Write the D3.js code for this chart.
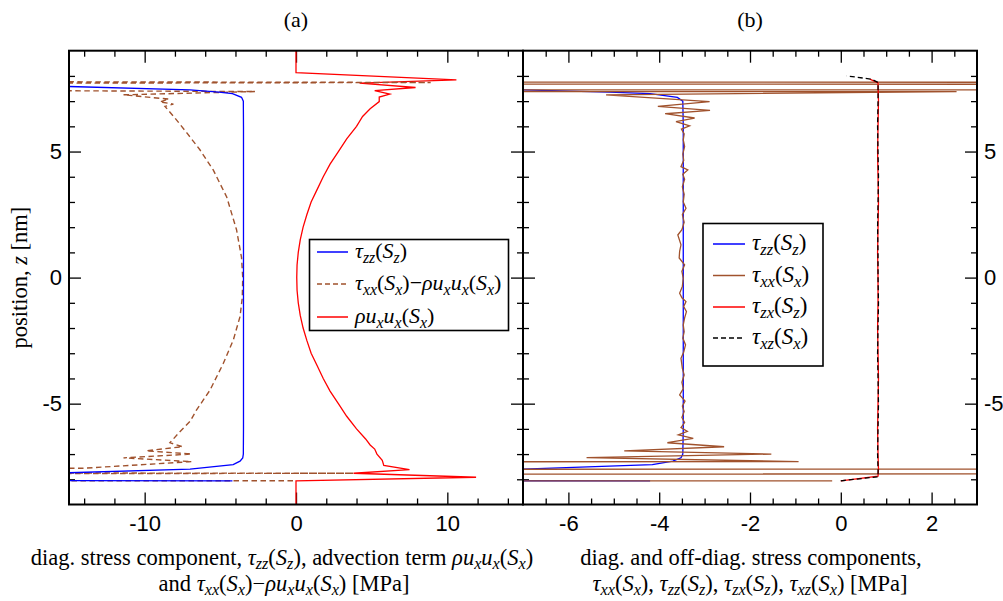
<!DOCTYPE html>
<html>
<head>
<meta charset="utf-8">
<script src="https://cdn.jsdelivr.net/npm/d3@7"></script>
<style>
body { margin: 0; background: #fff; }
svg { display: block; }
.tick text { font-family: "Liberation Sans", Arial, sans-serif; font-size: 22px; fill: #000; }
.serif { font-family: "Liberation Serif", "Times New Roman", serif; fill: #000; }
</style>
</head>
<body>
<div id="chart"></div>
<script>
// profiles as [value, z] pairs, z in nm, value in MPa
const tauZZ = [[-4.2,-8.06],[-60,-8.03],[-60,-7.80],[-15,-7.74],[-7.0,-7.60],[-4.15,-7.42],[-3.7,-7.28],[-3.52,-7.15],
  [-3.48,-7.0],[-3.47,-6],[-3.47,-5],[-3.47,-4],[-3.47,-3],[-3.47,-2],[-3.47,-1],[-3.47,0],[-3.47,1],[-3.47,2],
  [-3.47,3],[-3.47,4],[-3.47,5],[-3.47,6],[-3.48,7.0],[-3.6,7.15],[-4.2,7.30],[-5.1,7.36],[-7.0,7.45],[-15,7.58],[-60,7.70]];

const advection = [[0,-9.0],[0,-8.06],[11.9,-7.92],[3.8,-7.76],[7.5,-7.62],[5.8,-7.45],[5.7,-7.25],[5.35,-7.0],[5.2,-6.8],
  [4.9,-6.64],[4.6,-6.4],[4.0,-6.0],[3.35,-5.5],[2.8,-5.0],[2.25,-4.5],[1.8,-4.0],[1.4,-3.5],[1.0,-3.0],[0.72,-2.5],
  [0.47,-2.0],[0.28,-1.5],[0.15,-1.0],[0.07,-0.5],[0.05,0],[0.07,0.5],[0.15,1.0],[0.28,1.5],[0.47,2.0],[0.72,2.5],
  [1.0,3.0],[1.4,3.5],[1.8,4.0],[2.25,4.5],[2.8,5.0],[3.35,5.5],[4.0,6.0],[4.4,6.39],[4.9,6.7],[5.5,6.98],[5.5,7.16],
  [6.2,7.28],[5.2,7.42],[7.9,7.54],[4.2,7.71],[10.6,7.84],[0,8.13],[0,9.0]];

const tauXXminusAdv = [[-0.2,-8.06],[-300,-8.02],[3.8,-7.76],[-300,-7.62],[-14,-7.56],[-6.9,-7.30],[-11.4,-7.15],
  [-6.9,-7.00],[-9.9,-6.87],[-7.5,-6.71],[-8.33,-6.55],[-7.67,-6.11],[-7.0,-5.7],[-6.57,-5.25],[-5.68,-4.46],[-4.8,-3.4],
  [-4.14,-2.47],[-3.7,-1.55],[-3.55,-0.8],[-3.52,0],[-3.6,0.8],[-3.93,1.9],[-4.58,3.2],[-5.47,4.27],[-6.35,5.07],
  [-7.2,5.73],[-8.0,6.33],[-8.66,6.79],[-8.1,6.88],[-9.0,6.97],[-8.4,7.08],[-11.4,7.25],[-2.7,7.38],[-100,7.62],
  [8.9,7.74],[-100,7.86]];

const tauXX = [[-0.19,-8.06],[-500,-8.04],[500,-7.54],[-500,-7.66],[-0.93,-7.30],[-5.6,-7.14],[-1.53,-7.0],[-4.77,-6.87],
  [-2.57,-6.71],[-3.82,-6.55],[-3.25,-6.38],[-3.58,-6.24],[-3.38,-6.1],[-3.52,-5.95],[-3.44,-5.75],[-3.5,-5.55],
  [-3.45,-5.31],[-3.49,-5.1],[-3.43,-4.9],[-3.55,-4.65],[-3.47,-4.4],[-3.5,-4.15],[-3.45,-3.86],[-3.49,-3.6],
  [-3.52,-3.2],[-3.46,-2.95],[-3.42,-2.67],[-3.48,-2.4],[-3.45,-2.15],[-3.47,-1.88],[-3.44,-1.6],[-3.40,-1.35],
  [-3.46,-1.15],[-3.41,-0.95],[-3.5,-0.8],[-3.55,-0.62],[-3.49,-0.35],[-3.47,-0.03],[-3.5,0.25],[-3.44,0.51],
  [-3.56,0.78],[-3.55,1.04],[-3.52,1.3],[-3.59,1.69],[-3.5,1.9],[-3.45,2.2],[-3.49,2.5],[-3.41,2.75],[-3.47,3.0],
  [-3.45,3.3],[-3.49,3.6],[-3.44,3.9],[-3.48,4.1],[-3.37,4.27],[-3.52,4.40],[-3.46,4.65],[-3.48,4.9],[-3.44,5.2],
  [-3.47,5.46],[-3.45,5.7],[-3.51,5.89],[-3.33,6.02],[-3.63,6.19],[-3.22,6.33],[-3.87,6.5],[-2.88,6.63],[-4.03,6.79],
  [-2.89,6.98],[-5.17,7.25],[2.55,7.38],[-500,7.40],[500,7.50],[-500,7.84],[500,7.66]];

const tauZX = [[0,-8.06],[0.82,-7.88],[0.83,-7.6],[0.82,-7],[0.81,-6],[0.82,-5],[0.83,-4],[0.82,-3],[0.81,-2],
  [0.82,-1],[0.82,0],[0.81,1],[0.82,2],[0.83,3],[0.82,4],[0.81,5],[0.82,6],[0.83,7],[0.82,7.72],[0.64,7.87]];

const tauXZ = [[0,-8.06],[0.82,-7.9],[0.82,-7.6],[0.81,-7],[0.82,-6],[0.83,-5],[0.82,-4],[0.81,-3],[0.82,-2],
  [0.83,-1],[0.82,0],[0.82,1],[0.81,2],[0.82,3],[0.83,4],[0.82,5],[0.81,6],[0.82,7],[0.82,7.74],[0.68,7.87],[0.13,8.0]];

const zMajor = [-5, 0, 5];
const zMinor = [-8,-7,-6,-4,-3,-2,-1,1,2,3,4,6,7,8];
const xMajorA = [-10, 0, 10];
const xMinorA = [-14,-12,-8,-6,-4,-2,2,4,6,8,12,14];
const xMajorB = [-6, -4, -2, 0, 2];
const xMinorB = [-6.5,-5.5,-5,-4.5,-3.5,-3,-2.5,-1.5,-1,-0.5,0.5,1,1.5,2.5];

// rich text pieces: "i" italic, "s" italic subscript
const labTauZZ = [["τ","i"],["zz","s"],["(",""],["S","i"],["z","s"],[")",""]];
const labTauXX = [["τ","i"],["xx","s"],["(",""],["S","i"],["x","s"],[")",""]];
const labTauZX = [["τ","i"],["zx","s"],["(",""],["S","i"],["z","s"],[")",""]];
const labTauXZ = [["τ","i"],["xz","s"],["(",""],["S","i"],["x","s"],[")",""]];
const labAdv = [["ρu","i"],["x","s"],["u","i"],["x","s"],["(",""],["S","i"],["x","s"],[")",""]];
const labDiff = labTauXX.concat([["−",""]], labAdv);

const W = 1003, H = 601;
const yTop = 50.7, yBot = 504.5;
const svg = d3.select("#chart").append("svg").attr("width", W).attr("height", H);

const y = d3.scaleLinear().domain([-9, 9]).range([yBot, yTop]);
const xA = d3.scaleLinear().domain([-15, 15]).range([69, 523]);
const xB = d3.scaleLinear().domain([-7, 3]).range([523, 977]);

const fmt = d => String(d);

function rich(sel, parts, size, shift = 0.22) {
  let sub = false;
  parts.forEach(([t, s]) => {
    const ts = sel.append("tspan").text(t);
    if (s === "i" || s === "s") ts.attr("font-style", "italic");
    if (s === "s") {
      ts.attr("font-size", size * 0.72);
      if (!sub) { ts.attr("dy", size * shift); sub = true; }
    } else if (sub) {
      ts.attr("dy", -size * shift); sub = false;
    }
  });
}

function panel(id, x, majX, minX, leftLabels, rightLabels) {
  const g = svg.append("g");
  const [x0, x1] = x.range();
  g.append("clipPath").attr("id", id).append("rect")
    .attr("x", x0).attr("y", yTop).attr("width", x1 - x0).attr("height", yBot - yTop);

  const axes = [
    [d3.axisBottom(x).tickValues(majX).tickFormat(fmt), `translate(0,${yBot})`, 12, true, 11],
    [d3.axisBottom(x).tickValues(minX), `translate(0,${yBot})`, 6, false, 0],
    [d3.axisTop(x).tickValues(majX), `translate(0,${yTop})`, 12, false, 0],
    [d3.axisTop(x).tickValues(minX), `translate(0,${yTop})`, 6, false, 0],
    [d3.axisLeft(y).tickValues(zMajor).tickFormat(fmt), `translate(${x0},0)`, 12, leftLabels, 7],
    [d3.axisLeft(y).tickValues(zMinor), `translate(${x0},0)`, 6, false, 0],
    [d3.axisRight(y).tickValues(zMajor).tickFormat(fmt), `translate(${x1},0)`, 12, rightLabels, 7],
    [d3.axisRight(y).tickValues(zMinor), `translate(${x1},0)`, 6, false, 0]
  ];
  axes.forEach(([ax, tr, len, labels, pad]) => {
    const a = g.append("g").attr("transform", tr)
      .call(ax.tickSizeInner(-len).tickSizeOuter(0).tickPadding(pad));
    a.select(".domain").remove();
    a.selectAll(".tick line").attr("stroke", "#000").attr("stroke-width", 1.3);
    if (!labels) a.selectAll(".tick text").remove();
  });

  const plot = g.append("g").attr("clip-path", `url(#${id})`);
  const line = d3.line().x(d => x(d[0])).y(d => y(d[1]));
  return { g, plot, line };
}

const a = panel("clipA", xA, xMajorA, xMinorA, true, false);
const b = panel("clipB", xB, xMajorB, xMinorB, false, true);

const brown = "#a0522d";

a.plot.append("path").datum(advection).attr("d", a.line)
  .attr("fill", "none").attr("stroke", "#ff0000").attr("stroke-width", 1.3);
a.plot.append("path").datum(tauXXminusAdv).attr("d", a.line)
  .attr("fill", "none").attr("stroke", brown).attr("stroke-width", 1.4).attr("stroke-dasharray", "5.5,3.5");
a.plot.append("path").datum(tauZZ).attr("d", a.line)
  .attr("fill", "none").attr("stroke", "#0000ff").attr("stroke-width", 1.3);

b.plot.append("path").datum(tauZZ).attr("d", b.line)
  .attr("fill", "none").attr("stroke", "#0000ff").attr("stroke-width", 1.3);
b.plot.append("path").datum(tauXX).attr("d", b.line)
  .attr("fill", "none").attr("stroke", brown).attr("stroke-width", 1.3);
b.plot.append("path").datum(tauZX).attr("d", b.line)
  .attr("fill", "none").attr("stroke", "#ff0000").attr("stroke-width", 1.3);
b.plot.append("path").datum(tauXZ).attr("d", b.line)
  .attr("fill", "none").attr("stroke", "#000").attr("stroke-width", 1.3).attr("stroke-dasharray", "5,3");

// frames
[xA, xB].forEach(x => {
  const [x0, x1] = x.range();
  svg.append("rect").attr("x", x0).attr("y", yTop).attr("width", x1 - x0).attr("height", yBot - yTop)
    .attr("fill", "none").attr("stroke", "#000").attr("stroke-width", 2);
});

// legends
function legend(x0, y0, w, h, rows, sx, tx, size) {
  const lg = svg.append("g");
  lg.append("rect").attr("x", x0).attr("y", y0).attr("width", w).attr("height", h)
    .attr("fill", "#fff").attr("stroke", "#000").attr("stroke-width", 1.6);
  rows.forEach(r => {
    lg.append("line").attr("x1", sx[0]).attr("x2", sx[1]).attr("y1", r.y).attr("y2", r.y)
      .attr("stroke", r.color).attr("stroke-width", 1.5).attr("stroke-dasharray", r.dash || null);
    const t = lg.append("text").attr("class", "serif").attr("x", tx).attr("y", r.y + 6).attr("font-size", size);
    rich(t, r.label, size);
  });
}

legend(309.5, 239.5, 199, 91, [
  { y: 252, color: "#0000ff", label: labTauZZ },
  { y: 284, color: brown, dash: "5,3", label: labDiff },
  { y: 317, color: "#ff0000", label: labAdv }
], [317, 348], 355, 22);

legend(703, 223.5, 120, 142.5, [
  { y: 244, color: "#0000ff", label: labTauZZ },
  { y: 275.5, color: brown, label: labTauXX },
  { y: 307, color: "#ff0000", label: labTauZX },
  { y: 338, color: "#000", dash: "5,3", label: labTauXZ }
], [713, 745], 752, 23);

// titles and axis labels
svg.append("text").attr("class", "serif").attr("x", 296).attr("y", 27).attr("text-anchor", "middle")
  .attr("font-size", 22).text("(a)");
svg.append("text").attr("class", "serif").attr("x", 750).attr("y", 27).attr("text-anchor", "middle")
  .attr("font-size", 22).text("(b)");

const fs = 22.5;
function caption(x, yy, parts) {
  const t = svg.append("text").attr("class", "serif").attr("x", x).attr("y", yy)
    .attr("text-anchor", "middle").attr("font-size", fs);
  rich(t, parts, fs, 0.17);
}
caption(282, 565, [["diag. stress component, ",""]].concat(labTauZZ, [[", advection term ",""]], labAdv));
caption(284, 591, [["and ",""]].concat(labDiff, [[" [MPa]",""]]));
caption(751, 565, [["diag. and off-diag. stress components,",""]]);
caption(750, 591, labTauXX.concat([[", ",""]], labTauZZ, [[", ",""]], labTauZX, [[", ",""]], labTauXZ, [[" [MPa]",""]]));

const yl = svg.append("text").attr("class", "serif").attr("transform", `translate(27,${y(0)}) rotate(-90)`)
  .attr("text-anchor", "middle").attr("font-size", fs);
rich(yl, [["position, ",""],["z","i"],[" [nm]",""]], fs);
</script>
</body>
</html>
